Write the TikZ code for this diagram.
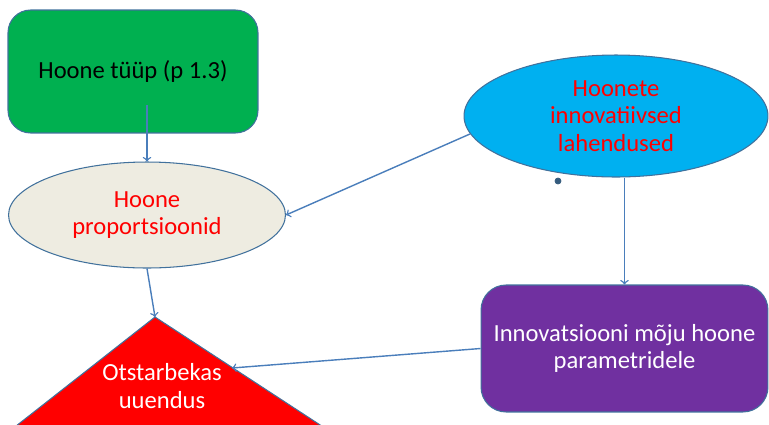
\documentclass[tikz,border=0pt]{standalone}
\usepackage{fontspec}
\setmainfont{Carlito}
\usetikzlibrary{arrows}
\usetikzlibrary{shapes.geometric,positioning}
\definecolor{kontuur}{HTML}{41719C}
\definecolor{nooleblue}{HTML}{4A7EBB}
\definecolor{roheline}{HTML}{00B050}
\definecolor{beez}{HTML}{EEECE1}
\definecolor{helesinine}{HTML}{00B0F0}
\definecolor{lilla}{HTML}{7030A0}
\tikzset{
  tekst/.style={align=center, inner sep=0pt, font=\fontsize{14}{15.8}\selectfont},
  kast/.style={tekst, draw=kontuur, line width=0.6pt, rounded corners=0.45cm},
  ovaal/.style={tekst, ellipse, draw=kontuur, line width=0.6pt},
  nool/.style={->, >=to, draw=nooleblue, line width=0.8pt}
}

\begin{document}
\begin{tikzpicture}[x=0.02cm,y=-0.02cm]
    \useasboundingbox (0,0) rectangle (769,424);
    \node[kast, fill=roheline, minimum width=5cm, minimum height=2.46cm] (tyyp) at (133,71.5) {Hoone tüüp (p 1.3)};
    \node[ovaal, fill=beez, text=red, minimum width=5.54cm, minimum height=2.12cm] (prop) at (147,215) {Hoone\\proportsioonid};
    \node[ovaal, fill=helesinine, text=red, minimum width=6.08cm, minimum height=2.44cm] (lahend) at (616,116) {Hoonete\\innovatiivsed\\lahendused};
    \node[kast, fill=lilla, text=white, minimum width=5.74cm, minimum height=2.54cm, rounded corners=0.5cm] (moju) at (624.5,348.5) {Innovatsiooni mõju hoone\\parametridele};
    \begin{scope}
      \clip (0,0) rectangle (769,424);
      \filldraw[fill=red, draw=kontuur, line width=0.6pt] (155,317) -- (-40,470) -- (389,470) -- cycle;
    \end{scope}
    \node[tekst, text=white] (uuendus) at (162,386) {Otstarbekas\\uuendus};
    \coordinate (tipp) at (155,317);
    \coordinate (kylg) at (232,368);
    \coordinate (tyyp-ots) at (147,105);
    \filldraw[kontuur!80!black] (558,181) circle (3);
    \draw[nool] (tyyp-ots) -- (prop.north);
    \draw[nool] (lahend.187) -- (prop.east);
    \draw[nool] (lahend.south -| moju.north) -- (moju.north);
    \draw[nool] (prop.south) -- (tipp);
    \draw[nool] (moju.west) -- (kylg);
\end{tikzpicture}
\end{document}
